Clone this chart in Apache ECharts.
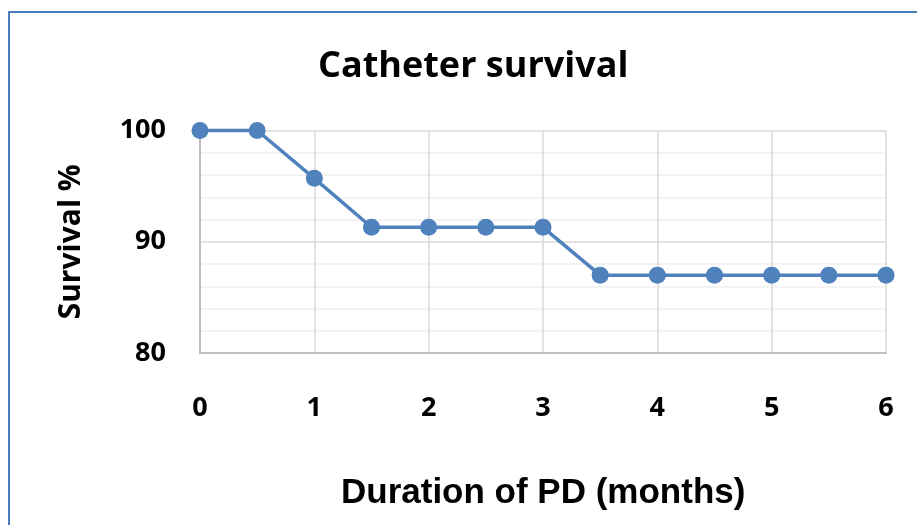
<!DOCTYPE html>
<html>
<head>
<meta charset="utf-8">
<script src="https://cdn.jsdelivr.net/npm/echarts@6/dist/echarts.min.js"></script>
<style>
html, body { margin: 0; padding: 0; background: #fff; }
#myChart { width: 917px; height: 525px; }
</style>
</head>
<body>
<div id="myChart"></div>
<script>
var months = [0, 0.5, 1, 1.5, 2, 2.5, 3, 3.5, 4, 4.5, 5, 5.5, 6];
var survival = [100, 100, 95.7, 91.3, 91.3, 91.3, 91.3, 87, 87, 87, 87, 87, 87];
var titleText = 'Catheter survival';
var xName = 'Duration of PD (months)';
var yName = 'Survival %';

var points = [];
for (var i = 0; i < months.length; i++) {
	points.push([months[i], survival[i]]);
}

var labelFont = {
	fontFamily: 'Open Sans',
	fontWeight: 'bold',
	fontSize: 27,
	color: '#000'
};

var myChart = echarts.init(document.getElementById('myChart'));
var option = {
	animation: false,
	backgroundColor: '#fff',
	title: {
		text: titleText,
		left: 313,
		top: 44,
		textStyle: {
			fontFamily: 'Open Sans',
			fontWeight: 'bold',
			fontSize: 36,
			color: '#000'
		}
	},
	graphic: [{
		type: 'rect',
		shape: { x: 9, y: 12, width: 1000, height: 600 },
		style: { fill: 'none', stroke: '#4a7ebb', lineWidth: 2 }
	}, {
		// x axis name sits left of the plot centre in the original
		type: 'text',
		x: 341,
		y: 476,
		style: {
			text: xName,
			x: 0,
			y: 0,
			verticalAlign: 'top',
			fontFamily: 'Liberation Sans',
			fontWeight: 'bold',
			fontSize: 35,
			fill: '#000'
		}
	}],
	grid: {
		left: 200,
		top: 130.5,
		right: 31,
		bottom: 172
	},
	xAxis: {
		type: 'value',
		min: 0,
		max: 6,
		interval: 1,
		axisLine: { show: true, onZero: false, lineStyle: { color: '#bfbfbf', width: 2 } },
		axisTick: { show: false },
		axisLabel: Object.assign({ margin: 42 }, labelFont),
		splitLine: { show: true, lineStyle: { color: '#d9d9d9', width: 1.5 } }
	},
	yAxis: {
		type: 'value',
		min: 80,
		max: 100,
		interval: 10,
		name: yName,
		nameLocation: 'middle',
		nameRotate: 90,
		nameGap: 114,
		nameTextStyle: {
			fontFamily: 'Open Sans',
			fontWeight: 'bold',
			fontSize: 30,
			color: '#000'
		},
		axisLine: { show: true, lineStyle: { color: '#bfbfbf', width: 2 } },
		axisTick: { show: false },
		axisLabel: Object.assign({ margin: 34 }, labelFont),
		splitLine: { show: true, lineStyle: { color: '#d9d9d9', width: 1.5 } },
		minorTick: { show: false, splitNumber: 5 },
		minorSplitLine: { show: true, lineStyle: { color: '#f0f0f0', width: 1.5 } }
	},
	series: [{
		type: 'line',
		data: points,
		symbol: 'circle',
		symbolSize: 17,
		clip: false,
		lineStyle: { color: '#4f81bd', width: 3.5 },
		itemStyle: { color: '#4f81bd' }
	}]
};
myChart.setOption(option);
</script>
</body>
</html>
